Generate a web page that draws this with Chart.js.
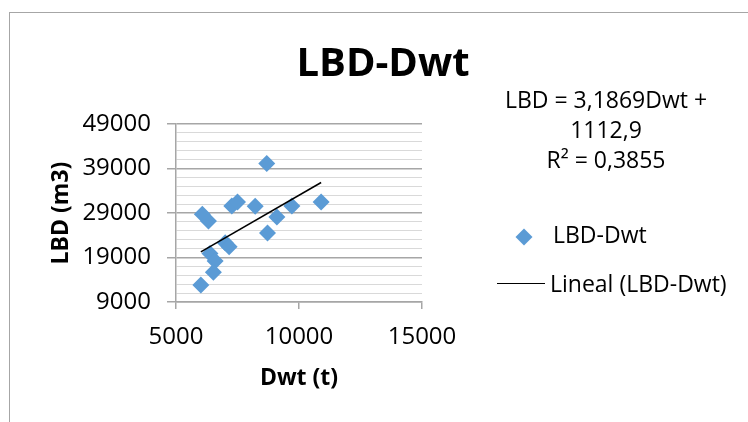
<!DOCTYPE html>
<html>
<head>
<meta charset="utf-8">
<script src="https://cdn.jsdelivr.net/npm/chart.js@4/dist/chart.umd.min.js"></script>
<style>
  html, body { margin:0; padding:0; background:#fff; }
  #wrap { position:relative; width:748px; height:422px; overflow:hidden; font-family:'Open Sans', sans-serif; color:#000; }
  #frame { position:absolute; left:9px; top:12px; width:800px; height:460px; border-left:1.5px solid #a6a6a6; border-top:1.5px solid #a6a6a6; }
  #chart { position:absolute; left:0; top:0; }
  .title { position:absolute; left:233px; width:300px; top:41px; text-align:center; font-size:40px; font-weight:bold; line-height:40px; }
  .eq { position:absolute; left:456px; width:300px; top:84px; text-align:center; font-size:23px; line-height:30px; }
  .lg { position:absolute; font-size:23px; line-height:30px; white-space:nowrap; }
  .diamond { position:absolute; left:518px; top:231px; width:12px; height:12px; background:#5B9BD5; transform:rotate(45deg); }
  .lgline { position:absolute; left:497px; top:283px; width:48px; height:0; border-top:1.5px solid #000; }
</style>
</head>
<body>
<div id="wrap">
  <div id="frame"></div>
  <canvas id="chart" width="748" height="422"></canvas>
  <div class="title">LBD-Dwt</div>
  <div class="eq">LBD = 3,1869Dwt +<br>1112,9<br>R² = 0,3855</div>
  <div class="diamond"></div>
  <div class="lg" style="left:553px;top:219px;">LBD-Dwt</div>
  <div class="lgline"></div>
  <div class="lg" style="left:550px;top:268px;">Lineal (LBD-Dwt)</div>
</div>
<script>
// values
const dwt = [6070, 6320, 8690, 7270, 7500, 8220, 9710, 10900, 9100, 8720, 7000, 7160, 6380, 6590, 6520, 6010];
const lbd = [28700, 27200, 40100, 30600, 31500, 30500, 30600, 31500, 28100, 24500, 22300, 21400, 19900, 18200, 15700, 12800];

// trendline as printed on the chart: LBD = 3,1869Dwt + 1112,9
const trendSlope = 3.1869;
const trendIntercept = 1112.9;

const xTicks = [5000, 10000, 15000];
const yMajor = [9000, 19000, 29000, 39000, 49000];
const yMinorStep = 2000;

const FONT = "'Open Sans', sans-serif";
const MAJOR = '#a6a6a6';
const MINOR = '#d9d9d9';

const yGrid = [];
for (let v = yMajor[0]; v <= yMajor[yMajor.length - 1]; v += yMinorStep) yGrid.push(v);

const points = dwt.map((x, i) => ({ x, y: lbd[i] }));
const xMin = Math.min(...dwt), xMax = Math.max(...dwt);
const trend = [xMin, xMax].map(x => ({ x, y: trendSlope * x + trendIntercept }));

const isMajor = v => yMajor.includes(v);

new Chart(document.getElementById('chart'), {
  type: 'scatter',
  data: {
    datasets: [
      {
        label: 'LBD-Dwt',
        data: points,
        pointStyle: 'rectRot',
        pointRadius: 8.5,
        pointHoverRadius: 8.5,
        backgroundColor: '#5B9BD5',
        borderWidth: 0,
        order: 1
      },
      {
        type: 'line',
        label: 'Lineal (LBD-Dwt)',
        data: trend,
        borderColor: '#000',
        borderWidth: 1.5,
        pointRadius: 0,
        fill: false,
        order: 0
      }
    ]
  },
  options: {
    responsive: false,
    animation: false,
    devicePixelRatio: 1,
    layout: { padding: { left: 0, top: 124, right: 326, bottom: 0 } },
    plugins: { legend: { display: false }, title: { display: false }, tooltip: { enabled: false } },
    scales: {
      x: {
        type: 'linear', min: 5000, max: 15000,
        afterBuildTicks: s => { s.ticks = xTicks.map(v => ({ value: v })); },
        afterFit: s => { s.height = 120; },
        grid: { drawOnChartArea: false, drawTicks: true, tickLength: 7, color: MAJOR, lineWidth: 1.5 },
        border: { color: MAJOR, width: 1.5 },
        ticks: {
          callback: v => String(v),
          autoSkip: false,
          font: { family: FONT, size: 24 }, color: '#000', padding: 14, maxRotation: 0
        },
        title: { display: true, text: 'Dwt (t)', color: '#000', font: { family: FONT, size: 23, weight: 'bold' }, padding: { top: 0, bottom: 30 } }
      },
      y: {
        type: 'linear', min: 9000, max: 49000,
        afterBuildTicks: s => { s.ticks = yGrid.map(v => ({ value: v })); },
        afterFit: s => { s.width = 176; },
        grid: {
          color: c => isMajor(c.tick.value) ? MAJOR : MINOR,
          tickColor: c => isMajor(c.tick.value) ? MAJOR : 'rgba(0,0,0,0)',
          lineWidth: c => isMajor(c.tick.value) ? 1.5 : 1,
          tickLength: 9
        },
        border: { color: MAJOR, width: 1.5 },
        ticks: {
          callback: v => isMajor(v) ? String(v) : '',
          autoSkip: false,
          font: { family: FONT, size: 24 }, color: '#000', padding: 16
        },
        title: { display: true, text: 'LBD (m3)', color: '#000', font: { family: FONT, size: 23, weight: 'bold' }, padding: { top: 48, bottom: 0 } }
      }
    }
  }
});
</script>
</body>
</html>
